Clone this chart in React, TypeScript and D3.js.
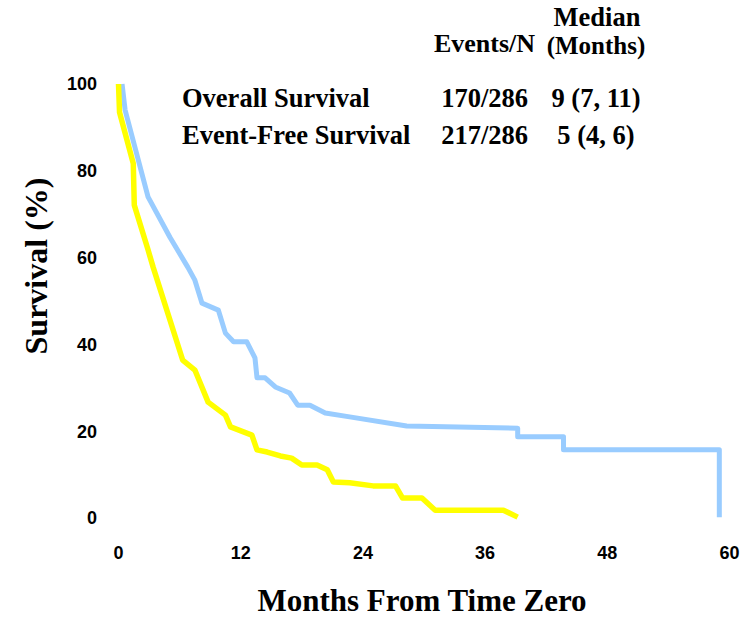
import React from "react";
import * as d3 from "d3";

// Kaplan–Meier estimates: [months, survival %]
const osMonths = [0.35, 0.65, 2.9, 5.05, 6.8, 7.5, 8.2, 9.8, 10.5, 11.3, 12.6, 13.4, 13.6, 14.4, 15.4, 16.8, 17.6, 18.8, 20.3, 22.7, 28.3, 39.2, 39.2, 43.7, 43.7, 59.0, 59.0];
const osSurvival = [100, 94, 74, 64.7, 57.8, 54.8, 49.5, 47.9, 42.6, 40.6, 40.6, 36.9, 32.3, 32.3, 30.2, 28.8, 26.0, 26.0, 24.2, 23.3, 21.2, 20.7, 18.7, 18.7, 15.7, 15.7, 0.2];

const efsMonths = [0, 0.1, 1.45, 1.55, 2.9, 3.4, 6.3, 7.5, 8.8, 10.5, 11.0, 13.1, 13.6, 14.6, 15.9, 17.0, 18.0, 19.5, 20.5, 21.1, 22.7, 25.0, 27.2, 27.9, 29.8, 31.1, 37.8, 39.2];
const efsSurvival = [100, 93.5, 81.7, 72.1, 61.8, 57.8, 36.4, 34.1, 26.7, 23.7, 21.0, 19.1, 15.7, 15.2, 14.3, 13.8, 12.2, 12.2, 11.1, 8.3, 8.1, 7.4, 7.4, 4.6, 4.6, 1.8, 1.8, 0.2];

const xTicks = [0, 12, 24, 36, 48, 60];
const yTicks = [0, 20, 40, 60, 80, 100];

const legendNames = ["Overall Survival", "Event-Free Survival"];
const legendEvents = ["170/286", "217/286"];
const legendMedians = ["9 (7, 11)", "5 (4, 6)"];

const W = 748;
const H = 619;
const serif = "'Liberation Serif', 'Times New Roman', serif";
const sans = "'Liberation Sans', Arial, sans-serif";

export default function App() {
  const x = d3.scaleLinear().domain([0, 60]).range([118.5, 729.5]);
  const y = d3.scaleLinear().domain([0, 100]).range([518, 84]);

  const line = d3
    .line<[number, number]>()
    .x((d) => x(d[0]))
    .y((d) => y(d[1]));

  const os = osMonths.map((m, i) => [m, osSurvival[i]] as [number, number]);
  const efs = efsMonths.map((m, i) => [m, efsSurvival[i]] as [number, number]);

  return (
    <svg
      width={W}
      height={H}
      style={{ position: "absolute", left: 0, top: 0, background: "#fff" }}
    >
      <rect width={W} height={H} fill="#fff" />

      {/* survival curves */}
      <path d={line(os) || ""} fill="none" stroke="#99CCFF" strokeWidth={5} strokeLinejoin="round" />
      <path d={line(efs) || ""} fill="none" stroke="#FFFF00" strokeWidth={5.5} strokeLinejoin="round" />

      {/* y tick labels */}
      {yTicks.map((t) => (
        <text
          key={"y" + t}
          x={97}
          y={y(t)}
          dy="0.36em"
          textAnchor="end"
          fontFamily={sans}
          fontWeight="bold"
          fontSize={18}
        >
          {t}
        </text>
      ))}

      {/* x tick labels */}
      {xTicks.map((t) => (
        <text
          key={"x" + t}
          x={x(t)}
          y={559}
          textAnchor="middle"
          fontFamily={sans}
          fontWeight="bold"
          fontSize={18}
        >
          {t}
        </text>
      ))}

      {/* axis titles */}
      <text
        x={422}
        y={611}
        textAnchor="middle"
        fontFamily={serif}
        fontWeight="bold"
        fontSize={31}
      >
        Months From Time Zero
      </text>
      <text
        transform="translate(47,266) rotate(-90)"
        textAnchor="middle"
        fontFamily={serif}
        fontWeight="bold"
        fontSize={32}
      >
        Survival (%)
      </text>

      {/* summary table */}
      <g fontFamily={serif} fontWeight="bold" fontSize={26.5}>
        <text x={535} y={52} textAnchor="end" fontSize={26}>Events/N</text>
        <text x={597} y={26} textAnchor="middle">Median</text>
        <text x={596} y={54} textAnchor="middle" fontSize={25}>(Months)</text>
        {legendNames.map((name, i) => (
          <g key={name}>
            <text x={182} y={107 + i * 37}>{name}</text>
            <text x={528} y={107 + i * 37} textAnchor="end">{legendEvents[i]}</text>
            <text x={596} y={107 + i * 37} textAnchor="middle">{legendMedians[i]}</text>
          </g>
        ))}
      </g>
    </svg>
  );
}
